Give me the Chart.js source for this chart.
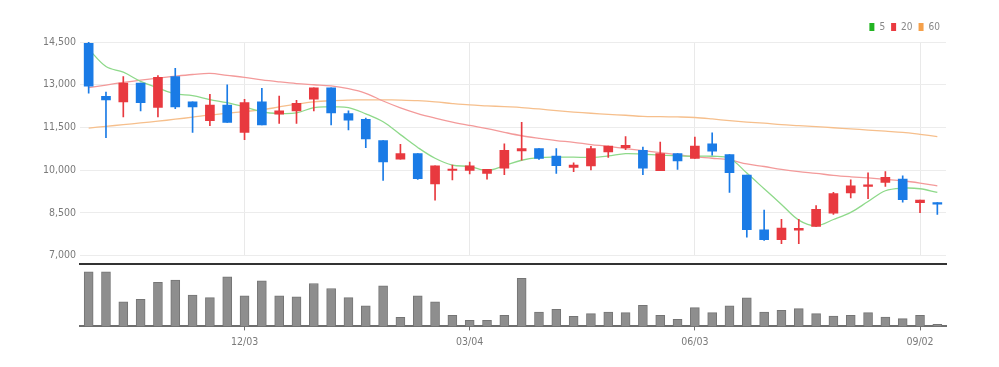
<!DOCTYPE html>
<html>
<head>
<meta charset="utf-8">
<script src="https://cdn.jsdelivr.net/npm/chart.js@4.4.1/dist/chart.umd.min.js"></script>
<style>
  html, body { margin: 0; padding: 0; background: #fff; }
  #wrap { position: relative; width: 999px; height: 367px; overflow: hidden; }
  #priceChart { position: absolute; left: 0; top: 0; }
  #volumeChart { position: absolute; left: 0; top: 262px; }
</style>
</head>
<body>
<div id="wrap">
  <canvas id="priceChart" width="999" height="266"></canvas>
  <canvas id="volumeChart" width="999" height="105"></canvas>
</div>
<script>
// weekly candles (MM/DD)
const weeks = ["10/01","10/08","10/15","10/22","10/29","11/05","11/12","11/19","11/26",
  "12/03","12/10","12/17","12/24","12/31","01/07","01/14","01/21","01/28","02/04","02/11",
  "02/18","02/25","03/04","03/11","03/18","03/25","04/01","04/08","04/15","04/22","04/29",
  "05/06","05/13","05/20","05/27","06/03","06/10","06/17","06/24","07/01","07/08","07/15",
  "07/22","07/29","08/05","08/12","08/19","08/26","09/02","09/09"];
const shownWeeks = ["12/03", "03/04", "06/03", "09/02"];

const opens  = [14450,12590,12400,13060,12200,13290,12400,11740,12290,11330,12400,11970,12080,12490,12890,11990,11790,11040,10390,10580,
                9520,9990,9990,9890,10070,10680,10760,10500,10100,10150,10640,10790,10700,9980,10580,10410,10930,10550,9830,7910,
                7560,7900,8030,8490,9200,9430,9570,9690,8860,8860];
const highs  = [14500,12740,13290,13060,13320,13580,12400,12660,13000,12490,12870,12600,12450,12890,12890,12080,11830,11040,10910,10580,
                10150,10180,10290,10030,10930,11680,10760,10760,10260,10840,10850,11180,10810,10990,10580,11160,11310,10550,9830,8600,
                8280,8280,8760,9220,9660,9910,9950,9800,8950,8860];
const lows   = [12700,11140,11870,12080,11870,12160,11330,11560,11680,11070,11590,11640,11640,12080,11590,11410,10790,9640,10390,9680,
                8950,9660,9870,9690,9840,10350,10380,9890,9950,10010,10450,10720,9840,9980,10030,10410,10530,9220,7650,7540,
                7420,7420,8030,8450,9030,9000,9430,8880,8510,8450];
const closes = [12950,12470,13060,12370,13260,12220,12220,12290,11680,12370,11590,12080,12350,12890,12010,11760,11100,10290,10580,9700,
                10150,10040,10150,10030,10700,10760,10410,10160,10180,10760,10850,10870,10070,10580,10330,10850,10670,9910,7910,7560,
                7970,7960,8630,9180,9450,9490,9750,8970,8950,8810];

// moving averages
const ma5  = [14250,13640,13440,13120,12890,12680,12620,12480,12370,12220,12050,11990,12010,12200,12220,12200,11980,11700,11250,10800,
              10420,10180,10130,9990,10160,10350,10440,10460,10460,10450,10500,10580,10560,10530,10500,10490,10490,10420,9900,9350,
              8800,8250,8050,8270,8520,8900,9280,9370,9350,9220];
const ma20 = [12900,12990,13080,13160,13230,13300,13360,13400,13330,13260,13170,13100,13040,13000,12960,12860,12700,12430,12190,11990,
              11830,11690,11570,11460,11330,11210,11120,11040,10980,10900,10840,10760,10690,10620,10540,10470,10420,10360,10220,10130,
              10030,9950,9890,9820,9770,9730,9680,9630,9550,9450];
const ma60 = [11480,11540,11600,11660,11720,11790,11860,11940,12000,12060,12120,12220,12320,12400,12440,12460,12470,12470,12460,12440,
              12400,12340,12290,12260,12230,12200,12150,12090,12040,12000,11960,11930,11890,11880,11870,11850,11800,11740,11690,11650,
              11600,11565,11530,11490,11450,11410,11370,11330,11260,11180];

const volumes = [1630,1630,730,810,1310,1380,930,860,1480,910,1360,910,880,1280,1130,860,610,1210,270,910,
                 730,330,180,180,330,1430,430,510,300,380,430,410,630,330,210,560,410,610,850,430,
                 480,530,380,310,330,410,280,230,330,60];

const priceTicks = { min: 7000, max: 14500, step: 1500 };

const UP = "#e8393f", DOWN = "#1a7be6";
const candleColors = opens.map((o, i) => closes[i] >= o ? UP : DOWN);
const labelFont = { family: "'Liberation Sans Narrow', 'DejaVu Sans Condensed', Roboto, sans-serif", size: 10.5 };
const isShown = (i) => shownWeeks.includes(weeks[i]);

new Chart(document.getElementById("priceChart"), {
  type: "bar",
  data: {
    labels: weeks,
    datasets: [
      { label: "wick", data: lows.map((l, i) => [l, highs[i]]), backgroundColor: candleColors,
        barThickness: 1, grouped: false, order: 3 },
      { label: "body", data: opens.map((o, i) => [o, closes[i]]), backgroundColor: candleColors,
        barThickness: 9, grouped: false, order: 2 },
      { type: "line", label: "5", data: ma5, borderColor: "#8ed98a", backgroundColor: "#22b422",
        borderWidth: 1.3, pointRadius: 0, tension: 0.35, order: 4 },
      { type: "line", label: "20", data: ma20, borderColor: "#f39a9a", backgroundColor: "#ea3a40",
        borderWidth: 1.3, pointRadius: 0, tension: 0.35, order: 5 },
      { type: "line", label: "60", data: ma60, borderColor: "#f6bf8c", backgroundColor: "#f5a04a",
        borderWidth: 1.3, pointRadius: 0, tension: 0.35, order: 6 }
    ]
  },
  options: {
    responsive: false,
    animation: false,
    layout: { padding: { top: 16, right: 53, bottom: 9, left: 0 } },
    scales: {
      x: {
        ticks: { display: false },
        border: { display: false },
        grid: {
          offset: false,
          drawTicks: false,
          color: (ctx) => isShown(ctx.index) ? "#e9e9e9" : "rgba(0,0,0,0)"
        }
      },
      y: {
        min: priceTicks.min,
        max: priceTicks.max,
        afterFit: (scale) => { scale.width = 80; },
        ticks: { stepSize: priceTicks.step, padding: 4, color: "#7a7a7a", font: labelFont },
        border: { display: false },
        grid: { color: "#ececec", drawTicks: false }
      }
    },
    plugins: {
      tooltip: { enabled: false },
      legend: {
        position: "top",
        align: "end",
        labels: {
          boxWidth: 5,
          boxHeight: 8,
          padding: 6,
          color: "#888",
          font: { family: labelFont.family, size: 10 },
          // solo las medias móviles
          generateLabels: (chart) => Chart.defaults.plugins.legend.labels.generateLabels(chart)
            .filter(l => l.datasetIndex >= 2)
            .map(l => ({ ...l, strokeStyle: l.fillStyle, lineWidth: 0 }))
        }
      }
    }
  }
});

new Chart(document.getElementById("volumeChart"), {
  type: "bar",
  data: {
    labels: weeks,
    datasets: [{
      label: "volume",
      data: volumes,
      backgroundColor: "#8e8e8e",
      borderColor: "#757575",
      borderWidth: 1,
      barThickness: 9
    }]
  },
  options: {
    responsive: false,
    animation: false,
    layout: { padding: { top: 2, right: 53, bottom: 12, left: 80 } },
    scales: {
      x: {
        position: "bottom",
        ticks: {
          autoSkip: false,
          maxRotation: 0,
          padding: 6,
          color: "#7a7a7a",
          font: labelFont,
          callback: (v, i) => isShown(i) ? weeks[i] : ""
        },
        border: { color: "#6e6e6e", width: 2 },
        grid: {
          offset: false,
          drawOnChartArea: false,
          tickLength: 4,
          tickColor: (ctx) => isShown(ctx.index) ? "#6e6e6e" : "rgba(0,0,0,0)"
        }
      },
      xTop: {
        position: "top",
        ticks: { display: false },
        border: { color: "#333", width: 2 },
        grid: { display: false, drawTicks: false }
      },
      y: { display: false, min: 0, max: 1860 }
    },
    plugins: { legend: { display: false }, tooltip: { enabled: false } }
  }
});
</script>
</body>
</html>
